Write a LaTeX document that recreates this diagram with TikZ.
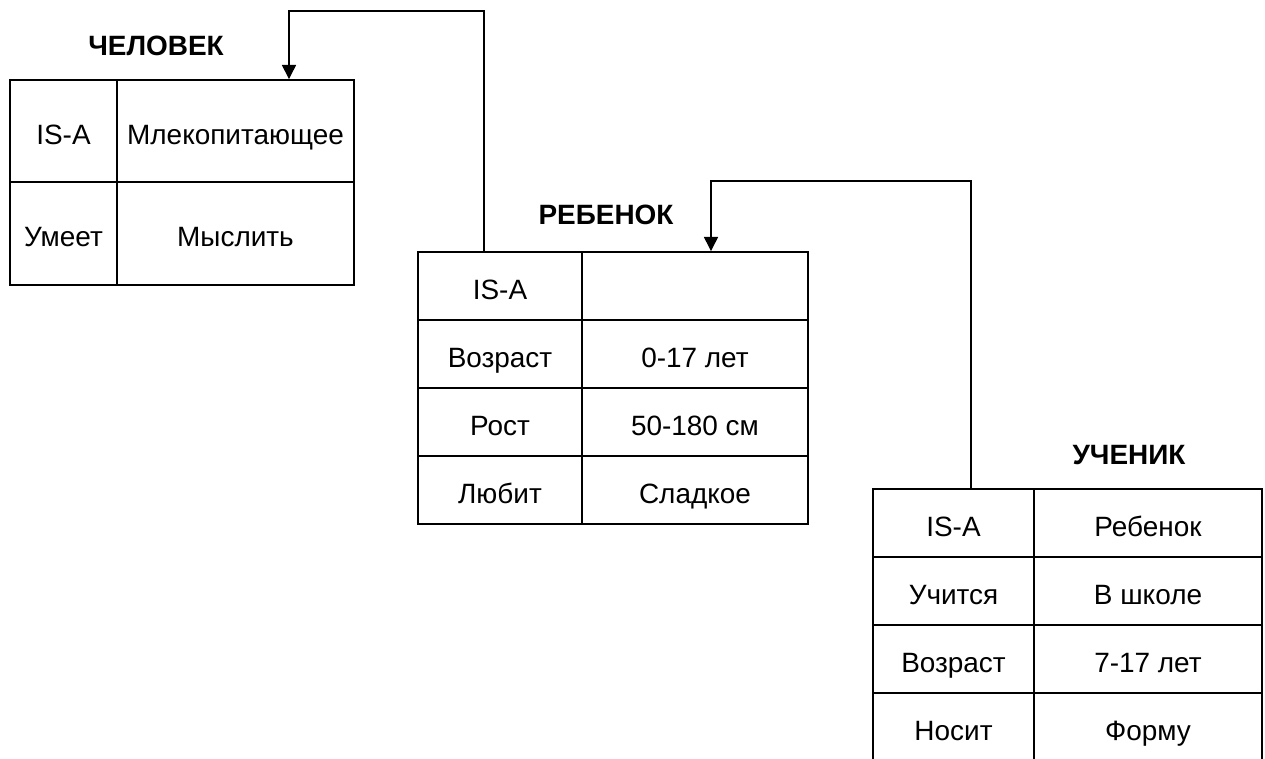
\documentclass[tikz,border=0pt]{standalone}
\usepackage{fontspec}
\setmainfont{Liberation Sans}
\usetikzlibrary{arrows.meta,positioning}

\begin{document}
\begin{tikzpicture}[x=0.02cm, y=-0.02cm,
    cell/.style={draw, line width=1.1pt, inner sep=0pt, minimum height=1.36cm, text height=15pt, text depth=0pt, font=\fontsize{15.9}{18}\selectfont, text=black},
    title/.style={font=\fontsize{15.9}{18}\selectfont\bfseries, text=black},
    arr/.style={-{Triangle[length=8pt, width=8pt]}, line width=0.75pt, black},
]
\path[use as bounding box, clip] (0,0) rectangle (1265,758);

% Top left: ЧЕЛОВЕК
\node[title] (chelT) at (156,46) {ЧЕЛОВЕК};
\node[cell, minimum width=2.14cm, minimum height=2.04cm] (chIsa) at (63.5,131) {IS-A};
\node[cell, minimum width=4.74cm, minimum height=2.04cm] (chIsaV) at (235.5,131) {Млекопитающее};
\node[cell, minimum width=2.14cm, minimum height=2.06cm] (chCan) at (63.5,233.5) {Умеет};
\node[cell, minimum width=4.74cm, minimum height=2.06cm] (chCanV) at (235.5,233.5) {Мыслить};

% Middle: РЕБЕНОК
\node[title] (rebT) at (606,215) {РЕБЕНОК};
\node[cell, minimum width=3.28cm] (rebIsa) at (500,286) {IS-A};
\node[cell, minimum width=4.52cm] (rebIsaV) at (695,286) {};
\node[cell, minimum width=3.28cm] (rebAge) at (500,354) {Возраст};
\node[cell, minimum width=4.52cm] (rebAgeV) at (695,354) {0-17 лет};
\node[cell, minimum width=3.28cm] (rebH) at (500,422) {Рост};
\node[cell, minimum width=4.52cm] (rebHV) at (695,422) {50-180 см};
\node[cell, minimum width=3.28cm] (rebLove) at (500,490) {Любит};
\node[cell, minimum width=4.52cm] (rebLoveV) at (695,490) {Сладкое};

% Bottom right: УЧЕНИК
\node[title] (uchT) at (1129,455) {УЧЕНИК};
\node[cell, minimum width=3.22cm] (uchIsa) at (953.5,523) {IS-A};
\node[cell, minimum width=4.56cm] (uchIsaV) at (1148,523) {Ребенок};
\node[cell, minimum width=3.22cm] (uchStudy) at (953.5,591) {Учится};
\node[cell, minimum width=4.56cm] (uchStudyV) at (1148,591) {В школе};
\node[cell, minimum width=3.22cm] (uchAge) at (953.5,659) {Возраст};
\node[cell, minimum width=4.56cm] (uchAgeV) at (1148,659) {7-17 лет};
\node[cell, minimum width=3.22cm] (uchWear) at (953.5,727) {Носит};
\node[cell, minimum width=4.56cm] (uchWearV) at (1148,727) {Форму};

% IS-A links
\draw[arr] ([xshift=-0.32cm]rebIsa.north) -- ++(0,-240) -| ([xshift=1.07cm]chIsaV.north);
\draw[arr] ([xshift=0.35cm]uchIsa.north) -- ++(0,-307) -| ([xshift=0.32cm]rebIsaV.north);
\end{tikzpicture}
\end{document}
